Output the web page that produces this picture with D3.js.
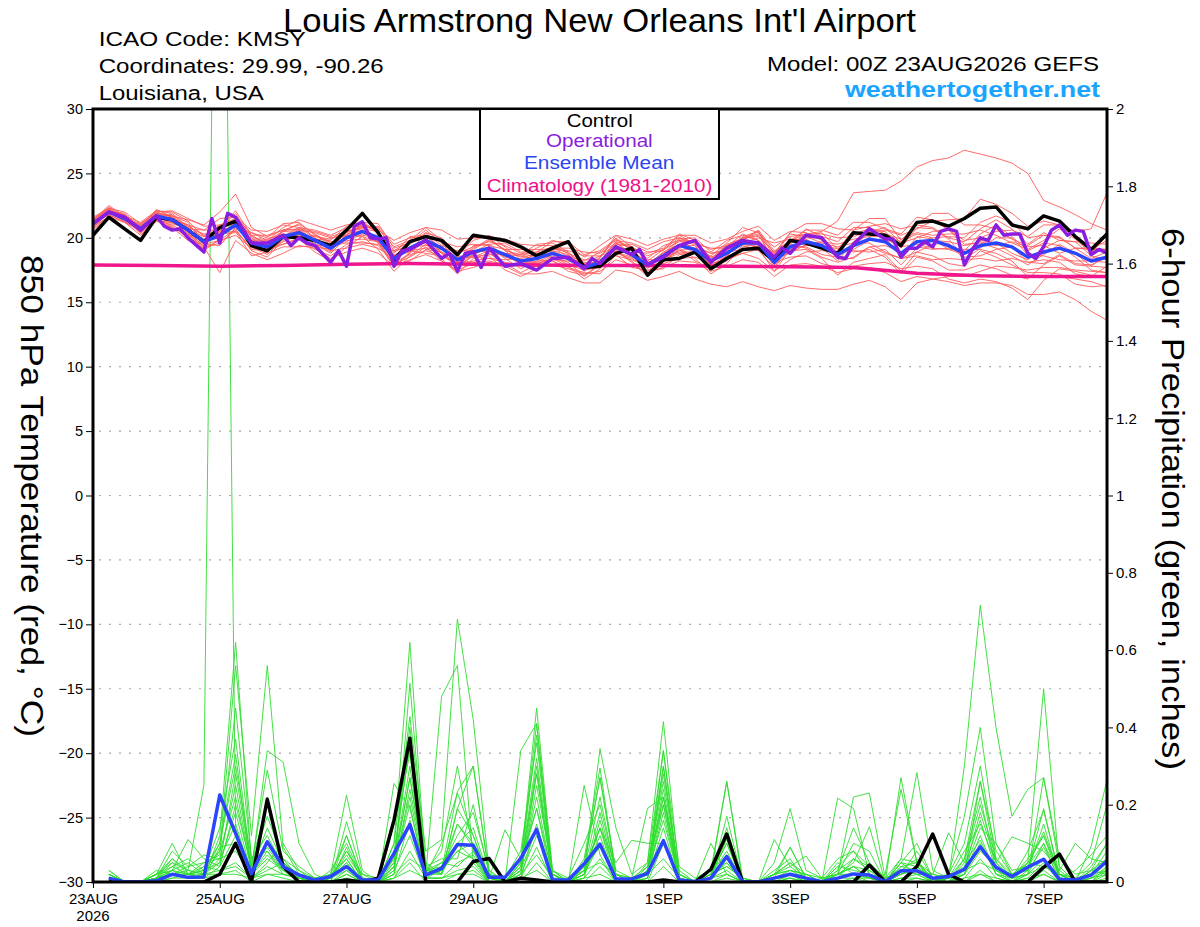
<!DOCTYPE html>
<html>
<head>
<meta charset="utf-8">
<script src="https://cdn.jsdelivr.net/npm/d3@7"></script>
<style>
  body { margin: 0; background: #fff; }
</style>
</head>
<body>
<svg id="chart" width="1200" height="927"></svg>
<script>
// GEFS meteogram, KMSY, 00Z 23AUG2026

const FONT = '"Liberation Sans", Arial, Helvetica, sans-serif';

// time axis: 6-hourly steps from 00Z 23 Aug 2026, 16 days
const tempHours = d3.range(0, 385, 6);
const precipHours = d3.range(6, 385, 6);
const climHours = d3.range(0, 385, 24);

const tickDays = ["2026-08-23", "2026-08-25", "2026-08-27", "2026-08-29", "2026-09-01", "2026-09-03", "2026-09-05", "2026-09-07"];
const tickLabels = ["23AUG", "25AUG", "27AUG", "29AUG", "1SEP", "3SEP", "5SEP", "7SEP"];
const tempTicks = [30, 25, 20, 15, 10, 5, 0, -5, -10, -15, -20, -25, -30];
const precipTicks = [0, 0.2, 0.4, 0.6, 0.8, 1, 1.2, 1.4, 1.6, 1.8, 2];

// 850 hPa temperature (C)
const controlTemp = [20.2,21.6,20.7,19.8,21.6, 21.4,20.6,19.7,20.8,21.3, 19.4,19.0,20.1,20.0,19.8, 19.4,20.6,21.9,20.4,18.3, 19.7,20.1,19.8,18.7,20.2, 20.0,19.8,19.3,18.6,19.2, 19.7,17.7,17.8,18.8,19.2, 17.1,18.3,18.4,18.9,17.6, 18.4,19.1,19.2,18.2,19.8, 19.6,19.2,18.8,20.4,20.3, 20.2,19.4,21.2,21.3,20.9, 21.5,22.3,22.4,21.0,20.7, 21.7,21.3,20.1,19.1,20.3];
const meanTemp = [21.1,22.0,21.5,20.7,21.7, 21.4,20.6,19.7,20.2,21.0, 19.6,19.3,20.1,20.4,19.8, 19.2,20.0,20.5,20.0,18.4, 19.2,19.8,19.2,18.3,18.9, 19.2,18.7,18.2,18.4,18.8, 18.4,17.7,18.1,19.3,18.7, 17.9,18.6,19.4,19.1,18.2, 18.8,19.6,19.6,18.1,19.3, 19.7,19.4,18.7,19.4,19.9, 19.7,18.8,19.7,19.8,19.4, 18.8,19.4,19.6,19.3,18.5, 18.9,19.2,18.8,18.2,18.5];
const climTemp = [17.9,17.85,17.8,17.85,17.95,18.0,17.95,17.9,17.85,17.85,17.8,17.75,17.7,17.25,17.05,17.0,17.0];

// operational run has 3-hourly vertices in places
const opHours = [0,6,12,18,24,27,30,33,36,42,45,48,51,54,60,66,72,75,78,81,84,90,93,96,99,102,105,108,111,114,117,120,126,132,135,138,141,144,147,150,156,162,168,174,180,186,189,192,198,204,207,210,216,222,228,234,240,246,252,258,261,264,270,276,282,285,288,294,300,303,306,309,312,315,318,321,324,327,330,333,336,339,342,345,348,351,354,357,360,363,366,369,372,375,378,381,384];
const opTemp = [21.1,22.0,21.6,20.6,21.7,20.9,20.6,20.7,20.0,18.9,21.5,19.6,21.9,21.6,19.6,19.6,20.2,19.4,20.0,19.6,19.4,18.1,19.0,17.8,20.9,21.25,20.0,19.9,20.0,17.8,19.0,19.1,19.8,18.4,18.8,17.4,18.8,18.9,17.7,19.2,17.8,18.0,17.5,18.4,18.5,17.6,18.4,18.0,19.3,18.7,19.1,17.9,18.5,19.4,19.8,18.1,19.2,19.8,19.6,18.5,19.2,18.8,20.2,20.0,18.5,18.4,19.5,20.7,19.9,19.9,18.5,19.2,19.2,19.7,19.3,20.5,20.7,20.5,17.9,19.1,20.0,19.8,21.0,20.2,20.3,20.3,18.8,18.4,19.3,20.6,21.0,20.2,20.6,20.5,18.7,19.1,18.8];

const memberTemp = [
  [21.3,22.3,21.5,21.1,21.9, 21.7,21.4,21.0,22.0,23.4, 20.8,20.1,20.6,20.7,19.8, 19.0,20.2,21.0,20.8,19.0, 19.7,20.1,19.2,18.0,18.7, 19.2,18.5,18.2,18.7,19.3, 18.8,17.9,18.1,19.7,19.3, 18.2,19.1,20.0,19.6,18.5, 19.0,20.0,20.1,18.9,19.8, 20.3,20.5,21.3,23.5,23.6, 23.7,24.4,25.5,26.0,26.2, 26.8,26.5,26.2,25.8,25.0, 22.9,22.4,21.8,21.1,20.6],
  [20.9,22.1,21.8,20.7,21.6, 21.2,20.6,20.1,21.0,21.5, 20.4,19.8,20.5,21.1,20.3, 19.6,20.2,20.2,20.0,18.9, 19.5,20.4,20.0,18.8,19.3, 19.7,19.4,18.8,18.8,19.0, 18.4,18.0,18.6,19.5,19.3, 18.6,19.1,19.7,19.7,19.1, 19.4,20.0,20.3,19.3,20.1, 20.3,20.3,20.0,20.1,20.5, 20.6,20.2,20.7,21.3,21.4, 21.5,23.0,22.6,21.9,20.9, 21.3,21.0,20.5,20.7,23.5],
  [21.1,21.8,21.2,20.5,21.4, 21.0,20.3,19.2,19.6,20.6, 19.1,19.0,19.5,20.0,19.1, 18.6,19.5,19.7,19.4,18.1, 18.7,19.0,18.6,17.9,18.2, 18.4,18.1,17.8,17.8,17.9, 17.6,17.2,17.4,18.3,17.9, 17.3,17.7,18.2,18.1,17.4, 17.8,18.3,18.1,17.0,17.9, 18.0,17.8,17.3,17.6,17.7, 17.3,16.6,17.0,16.8,16.6, 16.3,16.5,16.5,16.3,15.6, 15.6,15.8,15.2,14.3,13.6],
  [21.2,22.0,21.4,20.9,21.7, 21.5,20.5,19.3,17.3,19.8, 18.8,18.3,18.8,19.4,19.2, 18.4,18.9,19.2,18.8,17.8, 18.3,18.7,18.2,17.4,17.7, 18.1,17.8,17.2,17.2,17.4, 16.9,16.5,16.5,17.5,17.3, 16.7,17.0,17.4,16.8,16.4, 16.2,16.6,16.2,15.9,16.3, 16.1,16.0,16.0,16.4,16.7, 16.2,15.2,16.5,16.8,17.0, 17.0,17.4,17.8,17.7,17.5, 17.7,17.7,17.5,17.4,17.3],
  [20.8,21.9,21.6,20.3,21.5, 21.4,20.8,20.3,20.5,20.8, 19.9,19.9,20.3,20.1,20.1, 19.9,20.5,20.8,20.9,19.5, 20.0,20.1,19.7,19.3,19.5, 19.4,19.1,19.1,19.1,19.1, 19.0,18.6,18.6,19.1,18.7, 18.3,18.3,18.8,18.9,18.5, 18.4,18.8,19.1,18.1,18.5, 18.6,18.0,17.7,17.8,18.0, 18.1,17.6,17.8,17.6,16.8, 16.5,16.8,16.6,16.1,15.2, 16.7,17.6,17.4,17.1,16.9],
  [21.5,22.2,21.7,21.2,22.1, 21.9,20.8,19.7,20.0,21.2, 19.4,19.3,20.6,21.0,20.0, 19.2,20.6,21.3,20.3,18.6, 19.3,19.6,18.8,18.1,19.1, 19.8,19.1,18.5,19.2,19.8, 19.5,18.5,19.4,20.2,19.3, 18.4,19.4,19.8,19.1,17.9, 18.6,19.9,20.2,18.3,19.8, 20.6,20.6,20.2,21.2,21.2, 20.7,20.3,21.6,21.4,20.6, 19.8,20.0,20.5,20.6,20.1, 21.0,21.0,20.0,19.1,19.8],
  [21.0,22.3,21.3,20.6,22.0, 21.6,21.0,19.9,20.7,21.9, 20.0,19.1,19.7,20.2,20.2, 19.7,19.8,19.9,19.7,19.0, 19.3,19.4,19.4,19.0,19.0, 18.9,18.7,18.0,18.0,18.3, 18.2,17.8,17.8,18.9,18.5, 17.9,18.9,19.5,18.8,18.2, 19.3,20.3,19.8,18.7,20.3, 20.1,19.6,19.3,19.6,19.6, 18.9,18.4,18.6,18.3,18.4, 18.3,18.4,18.2,18.4,18.1, 18.3,18.1,17.2,17.0,17.8],
  [21.4,22.1,21.9,20.8,21.5, 20.9,20.0,19.4,20.5,21.6, 20.6,20.5,21.0,20.8,20.6, 20.2,20.8,20.9,20.6,19.8, 20.4,20.8,20.6,19.9,20.0, 20.1,19.9,19.5,19.4,19.4, 18.8,18.3,18.3,19.0,18.2, 17.1,18.2,19.2,18.4,17.2, 18.0,19.3,19.5,18.4,18.8, 19.5,19.7,19.5,19.9,20.1, 20.2,19.7,20.3,20.0,20.1, 20.0,21.2,21.7,21.2,20.0, 20.2,20.0,19.2,19.1,19.1],
  [20.7,21.7,21.5,20.4,21.3, 21.2,20.7,19.5,19.8,20.7, 19.0,18.5,19.8,20.5,19.6, 18.9,20.3,20.6,19.6,17.7, 18.8,19.8,18.9,17.7,18.7, 19.3,18.4,17.6,18.2,19.0, 18.7,17.6,18.5,20.0,19.0, 18.8,19.2,20.2,20.2,19.6, 19.9,20.5,20.9,19.8,20.5, 20.4,19.8,18.7,19.1,19.8, 19.9,19.3,19.5,19.2,19.1, 18.7,19.8,19.6,18.8,18.3, 19.2,19.8,19.7,19.6,19.5],
  [21.3,22.4,21.6,21.0,21.8, 21.5,20.9,20.2,20.4,20.5, 18.6,18.9,20.2,19.9,18.9, 18.2,19.3,20.1,19.1,17.4, 18.6,19.5,18.4,17.2,18.4, 18.8,18.0,17.3,17.9,18.6, 17.9,17.5,17.7,19.2,19.0, 18.1,18.5,18.9,18.9,18.6, 19.6,20.8,20.4,18.6,19.5, 19.2,18.5,18.1,18.5,19.3, 19.4,18.9,19.3,19.1,19.2, 19.1,19.1,18.8,18.2,17.0, 17.0,17.0,16.8,16.6,16.2],
  [21.1,22.1,21.7,20.8,22.1, 22.0,21.3,20.1,20.2,21.2, 19.8,19.8,20.8,21.4,21.0, 20.6,21.0,21.2,21.1,19.2, 19.6,20.6,19.6,18.2,19.2, 19.9,19.0,18.1,18.1,18.2, 17.7,17.3,17.2,18.7,17.7, 17.5,17.6,18.7,18.8,17.7, 18.2,19.4,19.0,17.7,19.1, 19.9,19.2,18.2,19.7,20.5, 20.8,19.6,20.0,20.5,20.6, 19.5,19.6,19.2,18.6,17.9, 18.7,19.5,18.8,17.8,18.7],
  [20.9,21.6,21.4,20.9,21.6, 21.1,20.7,20.6,21.5,21.6, 19.6,18.8,19.3,19.3,19.4, 19.4,19.6,19.6,19.5,18.7, 19.0,19.2,19.1,18.6,18.5, 18.4,18.3,18.4,18.8,18.7, 18.6,18.2,18.9,19.8,19.6, 19.1,19.7,20.0,19.4,18.8, 19.1,19.5,19.3,18.5,19.4, 19.3,18.7,18.5,19.4,20.4, 20.5,19.2,20.8,20.7,19.9, 18.5,18.6,19.1,19.3,18.1, 18.0,18.7,18.0,17.9,18.5],
  [21.2,21.8,21.8,20.4,21.9, 21.8,20.4,19.0,19.9,21.4, 20.2,19.5,19.9,20.7,20.5, 20.1,20.5,20.7,20.5,18.6, 18.9,20.0,19.8,18.5,18.5, 19.0,18.8,18.7,18.6,18.5, 18.1,17.0,17.9,19.5,19.5, 18.9,19.0,20.3,19.8,18.4, 19.4,19.8,20.6,19.0,19.7, 20.0,20.0,18.9,20.3,20.7, 20.0,18.5,20.1,19.9,19.1, 19.0,20.3,21.0,20.1,19.0, 19.6,19.4,18.5,17.5,17.3],
  [21.0,22.2,21.5,20.7,21.4, 20.8,19.8,19.2,19.8,20.2, 19.2,19.5,20.5,20.4,19.5, 18.8,20.0,21.1,20.4,18.2, 19.8,20.8,19.8,18.6,19.8, 20.2,19.3,18.3,18.1,18.7, 18.3,18.1,18.0,18.8,18.4, 17.7,18.0,18.4,18.5,18.0, 18.3,18.8,18.4,17.4,18.3, 18.9,19.0,18.9,19.0,18.9, 19.1,17.9,19.2,19.8,19.7, 19.4,19.7,19.4,19.7,19.3, 19.4,18.8,19.2,19.2,19.1],
  [21.4,22.5,21.7,20.9,22.2, 21.6,20.6,19.8,20.8,22.1, 20.2,20.2,20.6,20.6,19.7, 19.3,20.4,20.8,19.8,17.9, 18.2,19.1,18.9,18.3,18.1, 18.2,17.9,17.9,18.4,19.2, 19.2,18.9,18.8,19.6,18.8, 17.6,18.8,19.9,20.0,18.9, 19.8,20.2,19.8,17.7,19.6, 20.2,20.4,19.1,20.6,21.5, 21.5,19.8,21.1,21.9,21.9, 21.0,21.0,20.7,19.9,19.4, 20.2,20.1,19.2,18.4,18.9],
  [20.8,22.0,21.3,21.0,21.7, 21.4,21.0,20.6,20.6,20.9, 19.8,19.2,19.5,19.9,19.9, 19.8,20.9,20.9,19.9,18.8, 20.1,20.2,19.2,18.9,20.0, 20.0,19.0,18.7,19.5,19.6, 18.9,17.7,18.4,20.2,19.9, 19.4,19.9,20.2,19.5,19.2, 19.2,19.6,20.0,19.6,19.9, 19.8,19.2,19.2,18.9,19.1, 18.5,17.2,18.5,18.2,17.5, 17.5,17.9,17.6,17.1,16.8, 17.9,18.6,17.9,17.8,17.7],
  [21.6,22.3,22.0,21.1,22.0, 22.1,21.5,20.9,21.0,21.3, 20.1,19.6,20.1,20.8,20.0, 19.0,19.2,19.5,19.2,18.4, 19.0,18.8,18.6,18.1,18.9, 19.5,19.6,18.9,18.9,19.7, 19.7,18.7,19.0,19.9,19.0, 18.0,18.8,19.4,19.4,17.8, 18.5,20.1,20.5,17.9,19.5, 20.7,20.1,19.7,20.8,20.8, 20.3,19.9,20.4,20.2,20.3, 20.3,20.6,20.2,19.6,19.1, 19.8,20.7,19.9,18.8,20.2],
  [20.6,21.6,21.2,20.2,21.3, 20.8,20.2,19.5,20.3,20.4, 19.4,19.7,20.3,20.1,19.3, 19.1,20.5,20.9,20.7,19.3, 19.8,20.0,18.8,17.7,18.6, 18.6,17.5,17.0,17.6,18.4, 17.8,16.8,17.6,19.0,18.1, 17.0,18.1,19.1,18.2,17.6, 18.6,19.8,19.2,17.4,19.1, 19.4,19.5,18.4,18.4,19.3, 18.8,18.4,18.9,19.5,19.6, 18.3,19.2,20.0,20.0,18.7, 18.6,18.3,18.2,18.2,18.1],
  [21.3,22.0,21.5,20.6,21.8, 21.7,21.2,19.5,19.4,20.8, 20.4,20.0,21.1,21.2,20.2, 19.5,19.7,20.3,20.2,18.0, 18.5,19.3,18.2,17.5,18.0, 18.7,18.7,18.6,18.3,18.2, 17.4,17.1,17.9,18.6,18.3, 17.8,18.6,19.8,19.7,18.2, 19.5,19.9,20.5,18.8,20.4, 21.1,21.1,20.7,20.6,20.9, 21.1,20.7,21.0,20.8,20.0, 19.7,20.7,21.4,20.7,19.5, 20.4,19.8,19.7,18.6,18.3],
  [20.9,22.2,21.2,20.7,21.9, 21.6,20.3,19.7,20.7,21.3, 19.3,18.7,19.9,20.6,20.4, 20.0,20.2,20.1,19.7,17.8, 18.9,20.4,19.4,17.9,19.4, 19.5,18.6,18.0,18.9,19.3, 18.5,17.4,18.2,19.7,18.6, 17.4,18.4,19.0,19.2,18.8, 18.9,19.1,19.4,18.9,19.0, 19.1,18.4,17.1,18.1,18.4, 18.7,17.4,18.9,18.6,18.0, 17.8,19.0,18.5,17.9,17.3, 17.3,17.2,16.4,16.2,16.3]
];

// 6-hour precipitation (inches), ending at precipHours
const controlPrecip = [0.003,0,0,0,0,0,0,0.02, 0.10,0,0.214,0.04,0,0,0,0.005, 0,0.01,0.16,0.372,0,0,0,0.053, 0.061,0,0.01,0.005,0,0,0,0, 0,0,0,0.005,0,0,0.033,0.124, 0,0,0,0,0,0,0,0, 0.044,0,0,0.04,0.124,0.02,0,0, 0,0,0,0.038,0.072,0,0,0];
const meanPrecip = [0.01,0,0,0.003,0.02,0.012,0.013,0.225, 0.126,0.022,0.104,0.04,0.018,0.005,0.014,0.04, 0.005,0.005,0.074,0.149,0.018,0.035,0.097,0.095, 0.012,0.012,0.061,0.136,0.005,0.005,0.047,0.098, 0.008,0.008,0.022,0.107,0.005,0.001,0.01,0.066, 0.001,0,0.01,0.02,0.01,0.001,0.01,0.021, 0.018,0.001,0.029,0.029,0.01,0.014,0.033,0.091, 0.038,0.014,0.038,0.059,0.007,0.005,0.018,0.054];

const memberPrecip = [
  [0.02,0,0,0.01,0.05,0.03,0.25,3.8, 0.14,0.02,0.08,0.03,0,0,0.01,0.06, 0,0,0.05,0.27,0.02,0.1,0.23,0.12, 0,0,0.04,0.19,0,0,0.03,0.14, 0,0,0.02,0.22,0,0,0.01,0.06, 0,0,0,0.02,0,0,0.05,0.02, 0.01,0,0.05,0.02,0,0.01,0.03,0.18, 0.05,0,0.02,0.1,0,0,0.02,0.05],
  [0.03,0,0,0.02,0.1,0.02,0.01,0.12, 0.62,0.05,0.2,0.04,0.02,0,0,0.12, 0.01,0,0.1,0.62,0.03,0.02,0.19,0.3, 0.02,0,0.05,0.41,0.01,0,0.05,0.27, 0.02,0,0.05,0.34,0,0,0.02,0.1, 0,0,0.02,0.05,0.02,0,0.01,0.06, 0.04,0,0.02,0.08,0.01,0,0.06,0.26, 0.08,0.02,0.03,0.19,0.01,0,0.03,0.1],
  [0.01,0,0,0.01,0.06,0.03,0.02,0.08, 0.56,0.12,0.56,0.09,0.02,0,0.02,0.225, 0.03,0,0.02,0.514,0.02,0.48,0.56,0.05, 0,0,0.02,0.12,0.02,0,0.25,0.07, 0,0,0.04,0.2,0.01,0,0.03,0.26, 0.01,0,0.01,0.09,0.01,0,0.02,0.04, 0.01,0,0.27,0.05,0,0,0.02,0.1, 0.02,0,0.05,0.5,0.03,0,0,0.04],
  [0.02,0,0,0.02,0.04,0.06,0.03,0.14, 0.37,0.03,0.34,0.31,0.1,0.02,0,0.156, 0.02,0,0.1,0.428,0.08,0.11,0.68,0.42, 0.03,0,0.05,0.45,0.03,0,0.02,0.345, 0.14,0.02,0.05,0.415,0.02,0,0.01,0.17, 0,0,0.05,0.19,0.03,0.01,0.02,0.02, 0.02,0.01,0.06,0.283,0.03,0.01,0.3,0.716, 0.398,0.17,0.24,0.27,0.04,0,0.04,0.1],
  [0,0,0,0,0.03,0.11,0.06,0.04, 0.2,0.04,0.29,0.08,0.04,0.01,0.02,0.12, 0.01,0,0.04,0.27,0.03,0.03,0.234,0.3, 0.02,0.01,0.08,0.36,0.02,0,0.06,0.295, 0.02,0,0.02,0.34,0.04,0.01,0.03,0.05, 0,0,0.01,0.02,0.01,0,0.02,0.22, 0.23,0.01,0.02,0.04,0,0.02,0.17,0.4, 0.1,0.02,0.05,0.04,0.02,0,0,0.03],
  [0.01,0,0,0.03,0.02,0.01,0.02,0.1, 0.3,0.06,0.12,0.04,0.02,0,0.01,0.05, 0,0,0.255,0.19,0.02,0.05,0.1,0.06, 0,0,0.34,0.41,0.03,0,0.02,0.14, 0.05,0.108,0.1,0.1,0.02,0,0.1,0.02, 0,0,0.02,0.03,0.02,0,0.217,0.19, 0.02,0,0.05,0.1,0.01,0,0.02,0.26, 0.05,0.117,0.1,0.08,0.03,0.1,0.06,0.05],
  [0.03,0,0,0.01,0.08,0.04,0.07,0.06, 0.15,0.02,0.1,0.06,0.03,0.01,0.01,0.08, 0.02,0.01,0.06,0.4,0.05,0.02,0.19,0.12, 0.01,0.135,0.06,0.19,0.02,0,0.03,0.1, 0.02,0.01,0.19,0.22,0.01,0,0.02,0.04, 0.01,0,0.11,0.04,0.067,0.01,0.01,0.02, 0.01,0.02,0.24,0.05,0.02,0.127,0.05,0.108, 0.02,0.01,0.08,0.185,0.02,0,0.092,0.264],
  [0,0,0,0.02,0.06,0.02,0.01,0.09, 0.1,0.01,0.05,0.1,0.03,0,0.01,0.03, 0,0,0.06,0.36,0.04,0.06,0.06,0.2, 0.02,0,0.03,0.3,0.01,0,0.04,0.27, 0.03,0.01,0.04,0.22,0.03,0,0.02,0.26, 0,0,0.02,0.09,0.01,0,0.02,0.05, 0.143,0,0.03,0.06,0,0.01,0.06,0.22, 0.03,0.01,0.02,0.27,0.06,0.02,0.03,0.02],
  [0.02,0,0,0.01,0.02,0.04,0.05,0.07, 0.45,0.06,0.08,0.02,0.01,0,0.03,0.1, 0.01,0,0.03,0.24,0.03,0.08,0.3,0.08, 0,0,0.02,0.25,0.03,0.01,0.1,0.2, 0.02,0,0.03,0.3,0.01,0,0.03,0.12, 0,0,0.01,0.02,0,0.01,0.06,0.08, 0.02,0,0.04,0.03,0.01,0.02,0.1,0.3, 0.06,0.01,0.05,0.12,0.02,0.01,0.05,0.2],
  [0.01,0,0,0.02,0.05,0.01,0.04,0.08, 0.22,0.03,0.14,0.05,0.02,0.01,0,0.09, 0,0,0.15,0.33,0.04,0.02,0.15,0.09, 0.01,0,0.05,0.28,0.01,0,0.02,0.18, 0.01,0,0.03,0.26,0.02,0,0.01,0.14, 0,0,0.03,0.06,0,0,0.03,0.14, 0.05,0.01,0.03,0.02,0.02,0.01,0.04,0.16, 0.03,0,0.03,0.15,0.01,0.03,0.07,0.12],
  [0,0,0,0,0.02,0.02,0.03,0.05, 0.28,0.04,0.17,0.06,0.01,0,0.02,0.06, 0,0.01,0.05,0.3,0.02,0.04,0.12,0.18, 0.03,0,0.04,0.32,0.02,0,0.03,0.22, 0.02,0,0.02,0.24,0.01,0,0.02,0.08, 0,0,0.02,0.03,0.01,0,0.02,0.1, 0.08,0,0.02,0.04,0.01,0,0.03,0.14, 0.1,0.03,0.04,0.1,0.02,0,0.02,0.08],
  [0.02,0,0,0.01,0.04,0.02,0.02,0.05, 0.18,0.02,0.06,0.03,0.02,0,0.01,0.07, 0.01,0,0.04,0.2,0.01,0.03,0.08,0.1, 0,0,0.03,0.22,0.01,0,0.02,0.1, 0.01,0,0.01,0.18,0,0,0.02,0.1, 0,0,0.01,0.02,0,0,0.04,0.03, 0.02,0,0.02,0.03,0,0.01,0.02,0.12, 0.02,0,0.02,0.06,0.01,0,0.01,0.04],
  [0,0,0,0.01,0.03,0.01,0.01,0.04, 0.12,0.01,0.22,0.05,0.01,0,0,0.03, 0,0,0.02,0.16,0.02,0.02,0.1,0.14, 0.01,0,0.02,0.28,0.02,0,0.01,0.16, 0.01,0,0.02,0.3,0.01,0,0.01,0.05, 0,0,0.01,0.01,0,0,0.02,0.04, 0.01,0,0.06,0.05,0.01,0,0.02,0.08, 0.04,0.02,0.03,0.09,0.01,0,0.03,0.06],
  [0.01,0,0,0.01,0.02,0.03,0.02,0.06, 0.08,0.02,0.1,0.04,0.01,0,0.01,0.04, 0,0,0.03,0.12,0.01,0.01,0.05,0.07, 0,0,0.01,0.15,0.01,0,0.02,0.12, 0,0,0.01,0.2,0,0,0.01,0.03, 0,0,0,0.01,0,0,0.01,0.02, 0,0,0.01,0.02,0,0,0.01,0.06, 0.01,0,0.01,0.05,0,0,0.01,0.03],
  [0,0,0,0,0.01,0.02,0.04,0.03, 0.05,0.01,0.04,0.02,0.01,0,0,0.02, 0,0,0.01,0.08,0.01,0.01,0.03,0.04, 0,0,0.01,0.09,0,0,0.01,0.06, 0,0,0.01,0.14,0,0,0,0.02, 0,0,0,0,0,0,0,0.01, 0,0,0,0.01,0,0,0,0.03, 0,0,0,0.03,0,0,0,0.02],
  [0.01,0,0,0.01,0.02,0.01,0.01,0.02, 0.03,0,0.02,0.01,0,0,0,0.01, 0,0,0.01,0.05,0,0,0.02,0.03, 0,0,0,0.05,0,0,0,0.04, 0,0,0,0.1,0,0,0,0.01, 0,0,0,0,0,0,0,0, 0,0,0,0,0,0,0,0.02, 0,0,0,0.02,0,0,0,0.01],
  [0,0,0,0.02,0.03,0.05,0.02,0.03, 0.04,0.01,0.03,0.05,0.02,0.01,0.01,0.04, 0.01,0,0.02,0.06,0.03,0.05,0.04,0.08, 0.02,0,0.02,0.07,0.01,0.01,0.03,0.05, 0.02,0.01,0.02,0.06,0.01,0,0.02,0.04, 0.01,0,0.01,0.03,0.02,0.01,0.02,0.04, 0.03,0.01,0.03,0.03,0.02,0.01,0.03,0.05, 0.03,0.01,0.02,0.04,0.02,0.01,0.02,0.03],
  [0.01,0,0,0,0.01,0.01,0.02,0.02, 0.02,0.01,0.02,0.02,0.01,0,0,0.02, 0,0,0.01,0.03,0.01,0.01,0.02,0.02, 0,0,0.01,0.03,0,0,0.01,0.02, 0,0,0,0.04,0,0,0.01,0.02, 0,0,0,0.01,0,0,0.01,0.01, 0.01,0,0.01,0.01,0,0,0.01,0.02, 0.01,0,0.01,0.02,0,0,0.01,0.02],
  [0,0,0,0.01,0.02,0.02,0.03,0.1, 0.33,0.02,0.07,0.03,0.01,0,0.01,0.05, 0,0,0.04,0.22,0.02,0.03,0.08,0.06, 0.01,0,0.03,0.14,0.01,0,0.04,0.09, 0.01,0,0.03,0.16,0.01,0,0.03,0.07, 0,0,0.02,0.05,0.01,0,0.03,0.06, 0.03,0,0.04,0.05,0.01,0,0.05,0.2, 0.06,0.02,0.04,0.13,0.02,0,0.03,0.06],
  [0.02,0,0,0.01,0.03,0.02,0.05,0.06, 0.25,0.03,0.09,0.03,0.02,0,0.01,0.08, 0.01,0,0.08,0.35,0.03,0.04,0.15,0.1, 0.01,0,0.04,0.38,0.02,0,0.03,0.14, 0.02,0,0.03,0.28,0.02,0,0.02,0.11, 0,0,0.02,0.04,0.01,0,0.04,0.08, 0.04,0,0.05,0.04,0,0.01,0.08,0.15, 0.05,0.01,0.06,0.12,0.01,0,0.02,0.05]
];

// ---------- layout ----------
const plotLeft = 93, plotRight = 1107, plotTop = 109, plotBottom = 882;
const baseTime = Date.UTC(2026, 7, 23, 0);
const hourToDate = h => new Date(baseTime + h * 3600 * 1000);

const svg = d3.select("#chart");

const x = d3.scaleUtc()
    .domain([hourToDate(0), hourToDate(384)])
    .range([plotLeft, plotRight]);
const yT = d3.scaleLinear().domain([-30, 30]).range([plotBottom, plotTop]);
const yP = d3.scaleLinear().domain([0, 2]).range([plotBottom, plotTop]);

svg.append("defs").append("clipPath").attr("id", "plot-clip")
  .append("rect")
    .attr("x", plotLeft).attr("y", plotTop)
    .attr("width", plotRight - plotLeft).attr("height", plotBottom - plotTop);

// dotted grid at the temperature ticks
svg.append("g")
  .selectAll("line")
  .data(tempTicks.filter(t => t > -30 && t < 30))
  .enter().append("line")
    .attr("x1", plotLeft + 6).attr("x2", plotRight - 4)
    .attr("y1", d => yT(d)).attr("y2", d => yT(d))
    .attr("stroke", "#a8a8a8")
    .attr("stroke-width", 1.2)
    .attr("stroke-dasharray", "2,8");

function seriesLine(hours, scale) {
  return d3.line()
    .x((d, i) => x(hourToDate(hours[i])))
    .y(d => scale(d));
}

const plot = svg.append("g").attr("clip-path", "url(#plot-clip)");

// ensemble members
plot.selectAll(".precip-member")
  .data(memberPrecip)
  .enter().append("path")
    .attr("class", "precip-member")
    .attr("fill", "none")
    .attr("stroke", "#2fdc2f")
    .attr("stroke-width", 0.9)
    .attr("d", seriesLine(precipHours, yP));

plot.selectAll(".temp-member")
  .data(memberTemp)
  .enter().append("path")
    .attr("class", "temp-member")
    .attr("fill", "none")
    .attr("stroke", "#ff5a5a")
    .attr("stroke-width", 0.9)
    .attr("d", seriesLine(tempHours, yT));

// climatology, control, mean, operational
function bold(data, hours, scale, color) {
  plot.append("path")
    .datum(data)
    .attr("fill", "none")
    .attr("stroke", color)
    .attr("stroke-width", 3.5)
    .attr("stroke-linejoin", "round")
    .attr("d", seriesLine(hours, scale));
}
bold(climTemp, climHours, yT, "#f0168c");
bold(controlPrecip, precipHours, yP, "#000000");
bold(meanPrecip, precipHours, yP, "#2b45ff");
bold(controlTemp, tempHours, yT, "#000000");
bold(meanTemp, tempHours, yT, "#2b45ff");
bold(opTemp, opHours, yT, "#8a1de0");

// ---------- axes ----------
function styleAxis(g, size) {
  g.attr("font-family", FONT).attr("font-size", size);
  g.select(".domain").remove();
  g.selectAll(".tick line").attr("stroke", "#000").attr("stroke-width", 1);
  g.selectAll(".tick text").attr("fill", "#000");
}

svg.append("g")
    .attr("transform", "translate(" + plotLeft + ",0)")
    .call(d3.axisLeft(yT).tickValues(tempTicks).tickSize(7).tickPadding(3))
    .call(g => styleAxis(g, 14.5));

svg.append("g")
    .attr("transform", "translate(" + plotRight + ",0)")
    .call(d3.axisRight(yP).tickValues(precipTicks).tickSize(6).tickPadding(3)
      .tickFormat(d => String(+d.toFixed(1))))
    .call(g => styleAxis(g, 15));

svg.append("g")
    .attr("transform", "translate(0," + plotBottom + ")")
    .call(d3.axisBottom(x)
      .tickValues(tickDays.map(d => new Date(d + "T00:00:00Z")))
      .tickFormat((d, i) => tickLabels[i])
      .tickSize(6).tickPadding(5))
    .call(g => styleAxis(g, 15));

svg.append("text")
    .attr("x", x(hourToDate(0))).attr("y", 921)
    .attr("text-anchor", "middle")
    .attr("font-family", FONT).attr("font-size", 15)
    .text("2026");

// plot frame
svg.append("rect")
    .attr("x", plotLeft).attr("y", plotTop)
    .attr("width", plotRight - plotLeft).attr("height", plotBottom - plotTop)
    .attr("fill", "none")
    .attr("stroke", "#000")
    .attr("stroke-width", 3);

// ---------- texts ----------
function label(txt, xPos, yPos, size, len, color, weight) {
  return svg.append("text")
    .attr("x", xPos).attr("y", yPos)
    .attr("font-family", FONT)
    .attr("font-size", size)
    .attr("font-weight", weight || "normal")
    .attr("fill", color || "#000")
    .attr("textLength", len)
    .attr("lengthAdjust", "spacingAndGlyphs")
    .text(txt);
}

label("Louis Armstrong New Orleans Int'l Airport", 283, 31.5, 34, 633);
label("ICAO Code: KMSY", 98.7, 46, 19.5, 207);
label("Coordinates: 29.99, -90.26", 98.7, 73, 19.5, 285);
label("Louisiana, USA", 98.7, 100, 19.5, 165);
label("Model: 00Z 23AUG2026 GEFS", 767, 71, 19.5, 332);
label("weathertogether.net", 845, 97, 21.5, 255, "#1aa3ff", "bold");

// legend box
svg.append("rect")
    .attr("x", 480).attr("y", plotTop)
    .attr("width", 239).attr("height", 90)
    .attr("fill", "#fff")
    .attr("stroke", "#000")
    .attr("stroke-width", 2);
label("Control", 566.7, 126.7, 17.5, 66, "#000");
label("Operational", 546, 147.3, 17.5, 106.7, "#8a1de0");
label("Ensemble Mean", 524, 169, 17.5, 150.3, "#2b45f0");
label("Climatology (1981-2010)", 486.7, 191.7, 17.5, 225.7, "#ef1189");

// rotated axis titles
svg.append("text")
    .attr("transform", "translate(21,255) rotate(90)")
    .attr("font-family", FONT).attr("font-size", 31.5)
    .attr("textLength", 482).attr("lengthAdjust", "spacingAndGlyphs")
    .text("850 hPa Temperature (red, \u00B0C)");

svg.append("text")
    .attr("transform", "translate(1162,228) rotate(90)")
    .attr("font-family", FONT).attr("font-size", 31.5)
    .attr("textLength", 542).attr("lengthAdjust", "spacingAndGlyphs")
    .text("6-hour Precipitation (green, inches)");
</script>
</body>
</html>
